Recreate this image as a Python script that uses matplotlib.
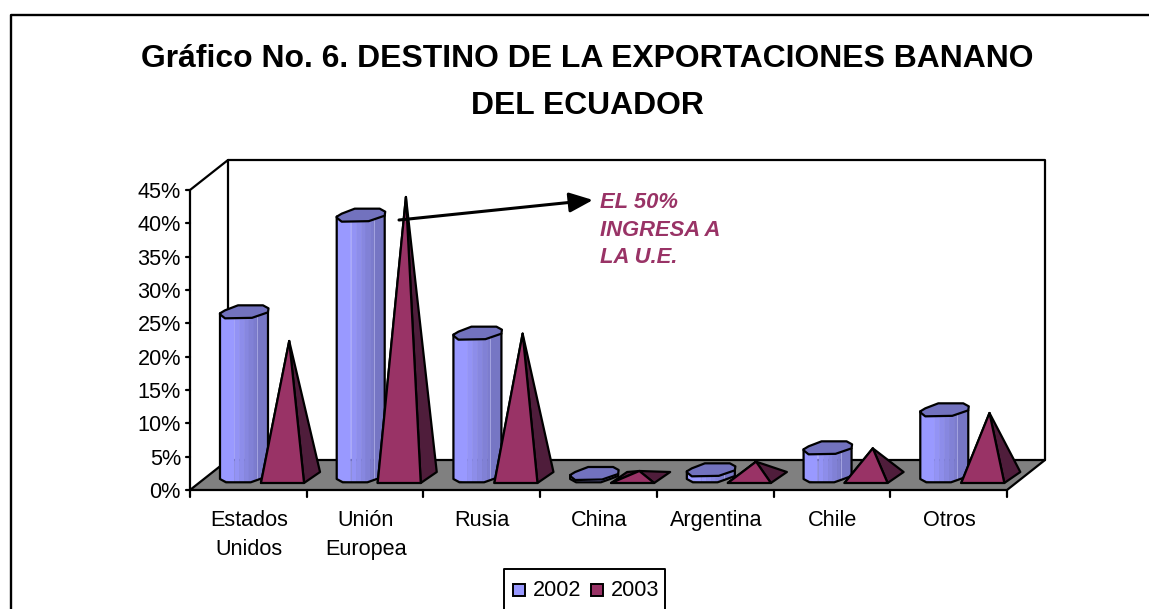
import numpy as np
import matplotlib
matplotlib.use('Agg')
import matplotlib.pyplot as plt
from matplotlib.patches import Polygon, Rectangle

plt.rcParams['font.family'] = ['Liberation Sans', 'DejaVu Sans']

categories = ['Estados\nUnidos', 'Unión\nEuropea', 'Rusia', 'China', 'Argentina', 'Chile', 'Otros']
values_2002 = [25.0, 39.5, 21.8, 0.75, 1.3, 4.6, 10.3]
values_2003 = [20.4, 42.0, 21.5, 0.9, 2.3, 4.3, 9.6]
y_ticks = [0, 5, 10, 15, 20, 25, 30, 35, 40, 45]
series_names = ['2002', '2003']

W, H = 1149, 609
LEFT, RIGHT, TOP, BOTTOM = 190, 1007, 190, 490
XU = (RIGHT - LEFT) / len(categories)
YU = (BOTTOM - TOP) / 45
DEPTH_X, DEPTH_Y = 38, 30
FS = 15.6

CYL = '#9999FF'
CYL_TOP = '#7272BE'
PYR = '#993366'
PYR_DARK = '#4F1D3B'
FLOOR = '#808080'

fig = plt.figure(figsize=(W / 100, H / 100), dpi=100)
ax = fig.add_axes([LEFT / W, 1 - BOTTOM / H, (RIGHT - LEFT) / W, (BOTTOM - TOP) / H])
ax.set_xlim(0, len(categories))
ax.set_ylim(0, 45)
ax.patch.set_visible(False)
for s in ax.spines.values():
    s.set_visible(False)
ax.set_xticks([])
ax.set_yticks([])


def pt(cat, val, dx=0, dy=0):
    # category/value position, nudged by dx, dy screen pixels (dy down)
    return (cat + dx / XU, val - dy / YU)


def poly(points, fc, z, lw=1.6):
    ax.add_patch(Polygon(points, closed=True, fc=fc, ec='black', lw=lw, zorder=z,
                         joinstyle='round', clip_on=False))


def line(points, lw=1.6, z=1):
    xs, ys = zip(*points)
    ax.plot(xs, ys, color='black', lw=lw, zorder=z, clip_on=False, solid_capstyle='round')


# Walls and floor
poly([pt(0, 0), pt(7, 0), pt(7, 0, DEPTH_X, -DEPTH_Y), pt(0, 0, DEPTH_X, -DEPTH_Y)], FLOOR, 1)
line([pt(0, 0), pt(0, 45), pt(0, 45, DEPTH_X, -DEPTH_Y), pt(0, 0, DEPTH_X, -DEPTH_Y)])
line([pt(0, 45, DEPTH_X, -DEPTH_Y), pt(7, 45, DEPTH_X, -DEPTH_Y), pt(7, 0, DEPTH_X, -DEPTH_Y)])

# Axis ticks and labels
for v in y_ticks:
    line([pt(0, v, -4), pt(0, v)])
    ax.text(*pt(0, v, -9, 2.5), f'{v}%', ha='right', va='center', fontsize=FS, color='black')
for i in range(len(categories) + 1):
    line([pt(i, 0), pt(i, 0, 0, 7)])
for i, c in enumerate(categories):
    ax.text(*pt(i + 0.5, 0, 0.5, 20), c, ha='center', va='top', fontsize=FS,
            color='black', linespacing=1.5)

# Octagon outline of a column top and its lower rim, in pixels from the centre
top_shape = [(-24, 1), (-19, -2), (-6, -7), (19, -7), (24.5, -4), (24, 0),
             (8, 5.5), (-19, 6), (-24, 2)]
rim = np.array([(-24, 0), (-18, 3.3), (6.7, 3.3), (16, 0), (24, -3)], dtype=float)
strips = [(-24, -10, '#9999FF'), (-10, -5, '#9393F5'), (-5, 0, '#8D8DEA'), (0, 5, '#8787E0'),
          (5, 10, '#8181D6'), (10, 13, '#7C7CCE'), (13, 24, '#7676C4')]

for i, (a, b) in enumerate(zip(values_2002, values_2003)):
    cx = i + 0.257 + 24 / XU
    # column centre stands 11 px behind the front of the floor
    base = 11 / YU
    top = a + base
    for x0, x1, c in strips:
        y0 = np.interp(x0, rim[:, 0], rim[:, 1])
        y1 = np.interp(x1, rim[:, 0], rim[:, 1])
        ax.add_patch(Polygon([pt(cx, top, x0, 0), pt(cx, top, x1, 0),
                              pt(cx, base, x1, y1), pt(cx, base, x0, y0)],
                             fc=c, ec=c, lw=0.4, zorder=3 + i, clip_on=False))
    ax.plot(*zip(pt(cx, top, 13, 3), pt(cx, base, 13, 0)), color='#A4A4E0', lw=0.7, zorder=3 + i, clip_on=False)
    line([pt(cx, top, -24, 1)] + [pt(cx, base, x, y) for x, y in rim] + [pt(cx, top, 24, 0)], z=3 + i)
    poly([pt(cx, top, dx, dy) for dx, dy in top_shape], CYL_TOP, 3 + i)

    # Pyramid, base 7 px to 18 px behind the front of the floor
    fl = pt(i + 0.608, 0, 0, -7)
    fr = pt(i + 0.977, 0, 0, -7)
    br = pt(i + 0.977, 0, 16, -18)
    bl = pt(i + 0.608, 0, 16, -18)
    apex = pt(i + 0.85, b, 0, -13)
    poly([apex, bl, fl], PYR_DARK, 3.5 + i)
    poly([apex, fr, br], PYR_DARK, 3.5 + i)
    poly([apex, fl, fr], PYR, 3.6 + i)

# Arrow and its note
ax.annotate('', xy=pt(0, 0, 403, -290), xytext=pt(0, 0, 209, -270),
            arrowprops=dict(arrowstyle='-|>,head_length=1,head_width=0.42', color='black', lw=2.2,
                            mutation_scale=14.4, shrinkA=0, shrinkB=0), zorder=30, annotation_clip=False)
ax.text(*pt(0, 0, 410, -298), 'EL 50%\nINGRESA A\nLA U.E.', ha='left', va='top', fontsize=15.8,
        fontweight='bold', fontstyle='italic', color=PYR, linespacing=1.42, zorder=30)

# Chart title, frame and legend
fig.text(587.5 / W, 1 - 59 / H, 'Gráfico No. 6. DESTINO DE LA EXPORTACIONES BANANO', ha='center', va='center',
         fontsize=22.95, fontweight='bold')
fig.text(587.5 / W, 1 - 106 / H, 'DEL ECUADOR', ha='center', va='center', fontsize=22.95, fontweight='bold')

fig.add_artist(plt.Line2D([10.5 / W, 10.5 / W, 1], [0, 1 - 15 / H, 1 - 15 / H],
                          color='black', lw=1.7, transform=fig.transFigure))
fig.add_artist(plt.Line2D([504 / W, 504 / W, 665 / W, 665 / W], [0, 1 - 568.5 / H, 1 - 568.5 / H, 0],
                          color='black', lw=1.4, transform=fig.transFigure))
for name, c, bx, tx in zip(series_names, [CYL, PYR], [512.5, 590.5], [533, 610.5]):
    fig.add_artist(Rectangle((bx / W, 1 - 595.5 / H), 12 / W, 12 / H, fc=c, ec='black', lw=1.4,
                             transform=fig.transFigure))
    fig.text(tx / W, 1 - 591 / H, name, ha='left', va='center', fontsize=FS)

fig.savefig('out.png', dpi=100)
